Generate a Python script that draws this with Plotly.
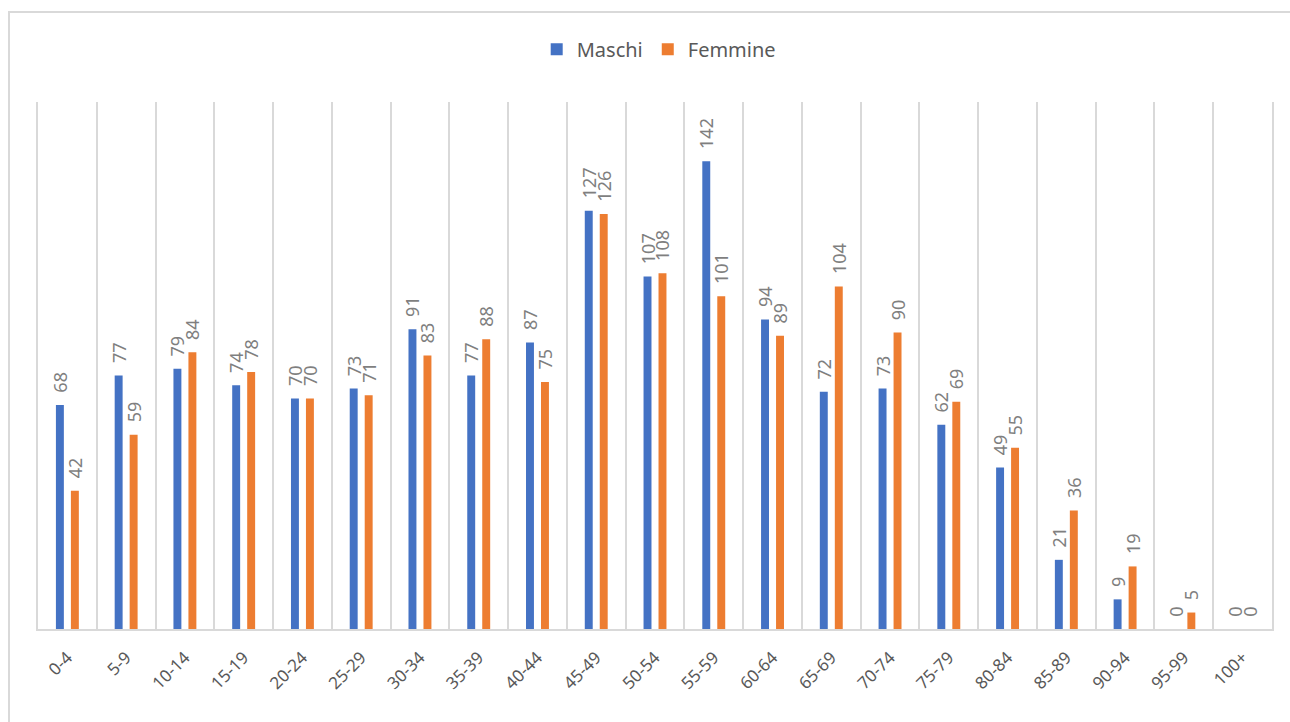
import plotly.graph_objs as go

# age classes and population counts
age_classes = [
    "0-4", "5-9", "10-14", "15-19", "20-24", "25-29", "30-34", "35-39",
    "40-44", "45-49", "50-54", "55-59", "60-64", "65-69", "70-74", "75-79",
    "80-84", "85-89", "90-94", "95-99", "100+",
]
maschi = [68, 77, 79, 74, 70, 73, 91, 77, 87, 127, 107, 142, 94, 72, 73, 62, 49, 21, 9, 0, 0]
femmine = [42, 59, 84, 78, 70, 71, 83, 88, 75, 126, 108, 101, 89, 104, 90, 69, 55, 36, 19, 5, 0]

font_family = "Noto Sans"
label_font = dict(family=font_family, size=18, color="#7f7f7f")


def make_bar(name, values, color):
    return go.Bar(
        x=age_classes,
        y=values,
        name=name,
        marker=dict(color=color, line=dict(width=0)),
        texttemplate="\u00a0\u00a0%{y}",
        textposition="outside",
        textangle=-90,
        textfont=label_font,
        constraintext="none",
        cliponaxis=False,
        hoverinfo="x+y+name",
    )


fig = go.Figure(
    data=[
        make_bar("Maschi", maschi, "#4472C4"),
        make_bar("Femmine", femmine, "#ED7D31"),
    ]
)

fig.update_layout(
    width=1290,
    height=722,
    barmode="group",
    bargap=0.49,
    bargroupgap=0.47,
    plot_bgcolor="white",
    paper_bgcolor="white",
    font=dict(family=font_family, color="#595959"),
    margin=dict(l=38, r=18, t=102, b=93),
    legend=dict(
        orientation="h",
        x=0.503,
        xanchor="center",
        y=1.1,
        yanchor="middle",
        font=dict(size=20, color="#595959"),
        itemwidth=30,
        traceorder="normal",
    ),
    xaxis=dict(
        type="category",
        tickson="boundaries",
        showgrid=True,
        gridcolor="#d9d9d9",
        gridwidth=2,
        showline=True,
        linecolor="#d9d9d9",
        linewidth=2,
        ticks="",
        tickangle=-45,
        ticklabelstandoff=10,
        tickfont=dict(size=17, color="#595959"),
    ),
    yaxis=dict(
        range=[0, 160],
        showgrid=False,
        zeroline=False,
        showticklabels=False,
        ticks="",
        showline=True,
        mirror=True,
        linecolor="#d9d9d9",
        linewidth=2,
    ),
    # chart area border (right and bottom edges fall outside the picture)
    shapes=[
        dict(
            type="rect",
            xref="paper",
            yref="paper",
            x0=-0.0235,
            x1=1.06,
            y0=-0.2,
            y1=1.1708,
            line=dict(color="#d9d9d9", width=2),
            fillcolor="rgba(0,0,0,0)",
            layer="below",
        )
    ],
)

fig.write_html(
    "out.html",
    config={"displayModeBar": False},
    post_script="document.body.style.margin='0';",
)
